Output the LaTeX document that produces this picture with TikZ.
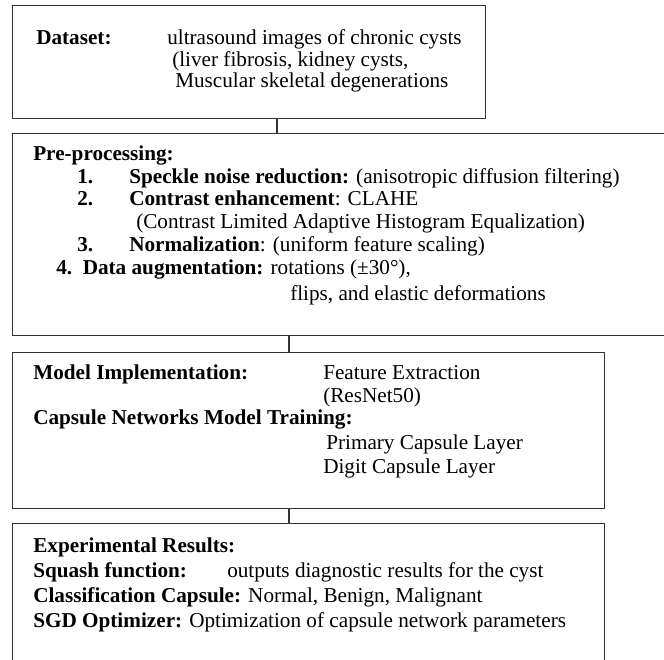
\documentclass[tikz,border=0pt]{standalone}
\usepackage{fontspec}
\setmainfont{Liberation Serif}
\usetikzlibrary{positioning}

\begin{document}
\begin{tikzpicture}[
    x=0.75pt, y=-0.75pt,
    box/.style={rectangle, draw=black!80, line width=1pt, anchor=north west, inner sep=0pt},
    txt/.style={anchor=base west, inner sep=0pt, font=\fontsize{15.9}{19}\selectfont},
    link/.style={draw=black!80, line width=1pt}
  ]
    \useasboundingbox (0,0) rectangle (664,660);

    % the four stages
    \node[box, minimum width=354.75pt, minimum height=84.75pt] (dataset) at (12,5) {};
    \node[box, minimum width=501pt, minimum height=151.5pt] (prep) at (12,133) {};
    \node[box, minimum width=444pt, minimum height=117pt] (model) at (12,352) {};
    \node[box, minimum width=444pt, minimum height=111.75pt] (results) at (12,523) {};

    % dataset
    \node[txt] (dshead) at (36,45) {\textbf{Dataset:}};
    \node[txt] (ds1) at (167,45) {ultrasound images of chronic cysts};
    \node[txt] (ds2) at (172,67) {(liver fibrosis, kidney cysts,};
    \node[txt] (ds3) at (175,88) {Muscular skeletal degenerations};

    % pre-processing
    \node[txt] (pphead) at (33,160) {\textbf{Pre-processing:}};
    \node[txt] (pp1n) at (77,183) {\textbf{1.}};
    \node[txt] (pp1) at (129,183) {\textbf{Speckle noise reduction:} (anisotropic diffusion filtering)};
    \node[txt] (pp2n) at (77,205) {\textbf{2.}};
    \node[txt] (pp2) at (129,205) {\textbf{Contrast enhancement}: CLAHE};
    \node[txt] (pp2b) at (136,228) {(Contrast Limited Adaptive Histogram Equalization)};
    \node[txt] (pp3n) at (77,251) {\textbf{3.}};
    \node[txt] (pp3) at (129,251) {\textbf{Normalization}: (uniform feature scaling)};
    \node[txt] (pp4) at (56,274) {\textbf{4.\ \ Data augmentation:} rotations (±30°),};
    \node[txt] (pp4b) at (290,300) {flips, and elastic deformations};

    % model
    \node[txt] (mihead) at (33,379) {\textbf{Model Implementation:}};
    \node[txt] (mi1) at (323,379) {Feature Extraction};
    \node[txt] (mi2) at (323,402) {(ResNet50)};
    \node[txt] (cnhead) at (33,424) {\textbf{Capsule Networks Model Training:}};
    \node[txt] (cn1) at (326,449) {Primary Capsule Layer};
    \node[txt] (cn2) at (323,473) {Digit Capsule Layer};

    % results
    \node[txt] (erhead) at (33,552) {\textbf{Experimental Results:}};
    \node[txt] (sqhead) at (33,577) {\textbf{Squash function:}};
    \node[txt] (sq1) at (227,577) {outputs diagnostic results for the cyst};
    \node[txt] (cc) at (33,602) {\textbf{Classification Capsule:} Normal, Benign, Malignant};
    \node[txt] (sgd) at (33,627) {\textbf{SGD Optimizer:} Optimization of capsule network parameters};

    % connectors
    \coordinate (c1) at (277,0);
    \coordinate (c2) at (289,0);
    \draw[link] (dataset.south -| c1) -- (prep.north -| c1);
    \draw[link] (prep.south -| c2) -- (model.north -| c2);
    \draw[link] (model.south -| c2) -- (results.north -| c2);
  \end{tikzpicture}
\end{document}
